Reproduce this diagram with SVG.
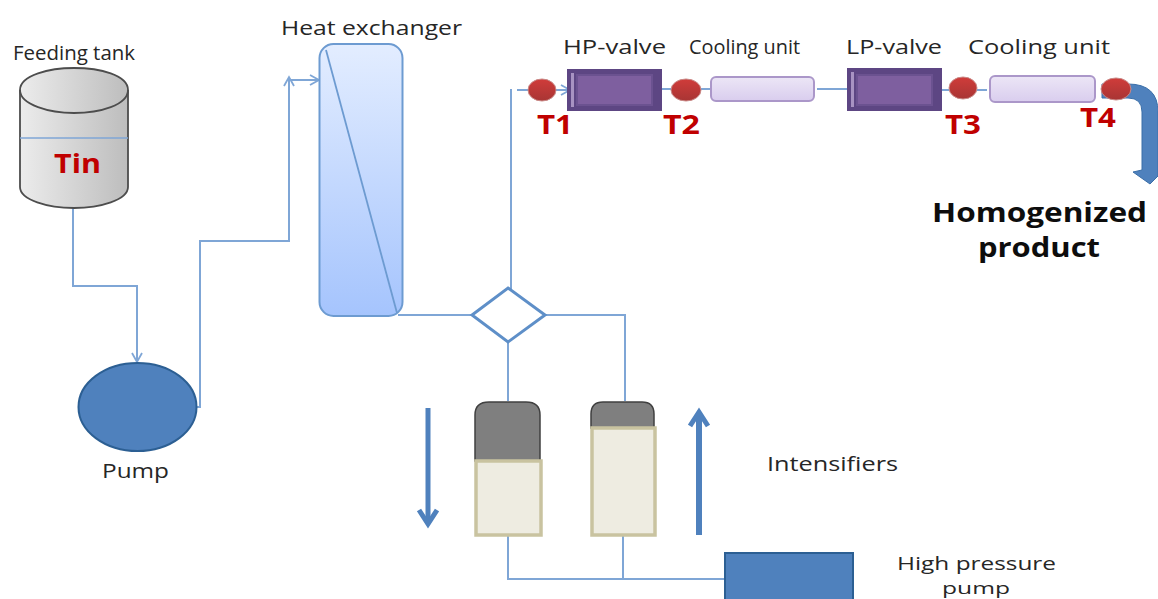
<svg xmlns="http://www.w3.org/2000/svg" width="1158" height="599" viewBox="0 0 1158 599">
<style>
text{font-family:"Open Sans","Noto Sans","Liberation Sans",sans-serif;fill:#262626;font-size:20px;text-anchor:start}
.hd{font-weight:700;font-size:26px;fill:#0d0d0d}
.t{font-weight:700;font-size:27px;fill:#c00000}
.c{fill:none;stroke:#7fa6d6;stroke-width:2}
.thick{fill:none;stroke:#4f81bd;stroke-width:5}
.s{fill:url(#red);stroke:#c98a88;stroke-width:1}
.v{fill:#5d4683;stroke:#5d4683;stroke-width:2}
.vi{fill:#7e5f9f;stroke:#6b5290;stroke-width:2}
.hl{fill:#a893c2}
.cu{fill:url(#lil);stroke:#ab97c9;stroke-width:2}
.gr{fill:#7f7f7f;stroke:#404040;stroke-width:1.5}
.cr{fill:#eeece1;stroke:#c9c3a0;stroke-width:3.5}
</style>
<defs>
<linearGradient id="red" x1="0" y1="0" x2="0" y2="1"><stop offset="0" stop-color="#d03c3a"/><stop offset="1" stop-color="#a83534"/></linearGradient>
<linearGradient id="lil" x1="0" y1="0" x2="0" y2="1"><stop offset="0" stop-color="#ece6f6"/><stop offset="1" stop-color="#d9cdee"/></linearGradient>
<linearGradient id="hx" x1="0" y1="0" x2="0" y2="1"><stop offset="0" stop-color="#e3edff"/><stop offset="1" stop-color="#a5c4fd"/></linearGradient>
<linearGradient id="tk" x1="0" y1="0" x2="1" y2="0"><stop offset="0" stop-color="#ececec"/><stop offset="1" stop-color="#bdbdbd"/></linearGradient>
<marker id="ah" markerWidth="12" markerHeight="12" refX="10" refY="6" orient="auto" markerUnits="userSpaceOnUse"><path d="M1 1L10 6L1 11" fill="none" stroke="#7fa6d6" stroke-width="1.8"/></marker>
<marker id="ahb" markerWidth="24" markerHeight="24" refX="17" refY="11" orient="auto" markerUnits="userSpaceOnUse"><path d="M3 2L17 11L3 20" fill="none" stroke="#4f81bd" stroke-width="5"/></marker>
</defs>

<g id="connectors">
<path class="c" d="M73 208V286H137V362" marker-end="url(#ah)"/>
<path class="c" d="M197 407H200V241H289V77" marker-end="url(#ah)"/>
<path class="c" d="M289 80H319" marker-end="url(#ah)"/>
<path class="c" d="M398 315H472"/>
<path class="c" d="M511 293V89"/>
<path class="c" d="M517 90H570" marker-end="url(#ah)"/>
<path class="c" d="M545 315H625V401"/>
<path class="c" d="M508 342V401"/>
<path class="c" d="M508 536V579H725"/>
<path class="c" d="M623 536V579"/>
<path class="c" d="M660 89H712M817 89H848M940 90H987"/>
<path class="thick" d="M428 408V524" marker-end="url(#ahb)"/>
<path class="thick" style="stroke-width:6" d="M699 535V412" marker-end="url(#ahb)"/>
</g>

<g id="feeding-tank">
<path d="M20 90C20 75 50 68 74 68C100 68 128 75 128 90V187C128 200 100 208 74 208C48 208 20 200 20 187Z" fill="url(#tk)" stroke="#4d4d4d" stroke-width="1.8"/>
<path d="M20 90C20 105 50 113 74 113C100 113 128 105 128 90" fill="none" stroke="#4d4d4d" stroke-width="1.8"/>
<path d="M20 138H128" stroke="#7fa6d6" stroke-width="1.5" fill="none"/>
<text x="13" y="60" textLength="122" lengthAdjust="spacingAndGlyphs">Feeding tank</text>
<text class="t" x="54" y="173" textLength="47" lengthAdjust="spacingAndGlyphs">Tin</text>
</g>

<g id="pump">
<ellipse cx="137.500" cy="407" rx="59" ry="44" fill="#4f81bd" stroke="#2c5f93" stroke-width="2"/>
<text x="102" y="478" textLength="67" lengthAdjust="spacingAndGlyphs">Pump</text>
</g>

<g id="heat-exchanger">
<rect x="319.500" y="44" width="83" height="272" rx="14" fill="url(#hx)" stroke="#6d9bd1" stroke-width="2"/>
<path d="M326 50L397 313" stroke="#6d9bd1" stroke-width="1.8" fill="none"/>
<text x="281" y="35" textLength="181" lengthAdjust="spacingAndGlyphs">Heat exchanger</text>
</g>

<g id="junction">
<path d="M508 288L545 315L508 342L472 315Z" fill="#fff" stroke="#5e8fc8" stroke-width="3"/>
</g>

<g id="intensifier-left">
<path class="gr" d="M475 461V415Q475 402 489 402H526Q540 402 540 415V461Z"/>
<rect class="cr" x="476" y="461" width="65" height="74"/>
</g>

<g id="intensifier-right">
<path class="gr" d="M591 428V414Q591 402 603 402H642Q654 402 654 414V428Z"/>
<rect class="cr" x="592" y="428" width="63" height="107"/>
</g>

<g id="intensifiers-label"><text x="767" y="471" textLength="131" lengthAdjust="spacingAndGlyphs">Intensifiers</text></g>

<g id="high-pressure-pump">
<path d="M725 599V553H853V599" fill="#4f81bd" stroke="#2c5f93" stroke-width="2"/>
<text x="897" y="570" textLength="159" lengthAdjust="spacingAndGlyphs" style="font-size:19px">High pressure</text>
<text x="942" y="594" textLength="68" lengthAdjust="spacingAndGlyphs" style="font-size:17px">pump</text>
</g>

<g id="hp-valve">
<rect class="v" x="568" y="70" width="93" height="40"/>
<rect class="vi" x="577" y="75" width="75" height="30"/>
<rect class="hl" x="571" y="73" width="3" height="34"/>
<text x="563" y="54" textLength="103" lengthAdjust="spacingAndGlyphs">HP-valve</text>
</g>

<g id="cooling-1">
<rect class="cu" x="711" y="77" width="103" height="24" rx="5"/>
<text x="689" y="54" textLength="111" lengthAdjust="spacingAndGlyphs">Cooling unit</text>
</g>

<g id="lp-valve">
<rect class="v" x="848" y="69" width="93" height="41"/>
<rect class="vi" x="857" y="75" width="75" height="30"/>
<rect class="hl" x="851" y="72" width="3" height="35"/>
<text x="846" y="54" textLength="96" lengthAdjust="spacingAndGlyphs">LP-valve</text>
</g>

<g id="cooling-2">
<rect class="cu" x="990" y="76" width="105" height="26" rx="5"/>
<text x="968" y="54" textLength="142" lengthAdjust="spacingAndGlyphs">Cooling unit</text>
</g>

<g id="outlet-arrow">
<path d="M1102 84H1128Q1158 84 1158 112V176L1150 184L1133 172L1142 170V112Q1142 98 1128 98H1102Z" fill="#4f81bd" stroke="#3a6ea8" stroke-width="1"/>
<text class="hd" x="932" y="222" textLength="215" lengthAdjust="spacingAndGlyphs">Homogenized</text>
<text class="hd" x="978" y="257" textLength="122" lengthAdjust="spacingAndGlyphs">product</text>
</g>

<g id="t1"><ellipse class="s" cx="542" cy="90" rx="14" ry="11"/><text class="t" x="537" y="134" textLength="36" lengthAdjust="spacingAndGlyphs">T1</text></g>
<g id="t2"><ellipse class="s" cx="686" cy="90" rx="15" ry="11"/><text class="t" x="663" y="134" textLength="37" lengthAdjust="spacingAndGlyphs">T2</text></g>
<g id="t3"><ellipse class="s" cx="963" cy="88" rx="14" ry="11"/><text class="t" x="945" y="134" textLength="36" lengthAdjust="spacingAndGlyphs">T3</text></g>
<g id="t4"><ellipse class="s" cx="1116" cy="89" rx="15" ry="11"/><text class="t" x="1080" y="127" textLength="36" lengthAdjust="spacingAndGlyphs">T4</text></g>
</svg>
